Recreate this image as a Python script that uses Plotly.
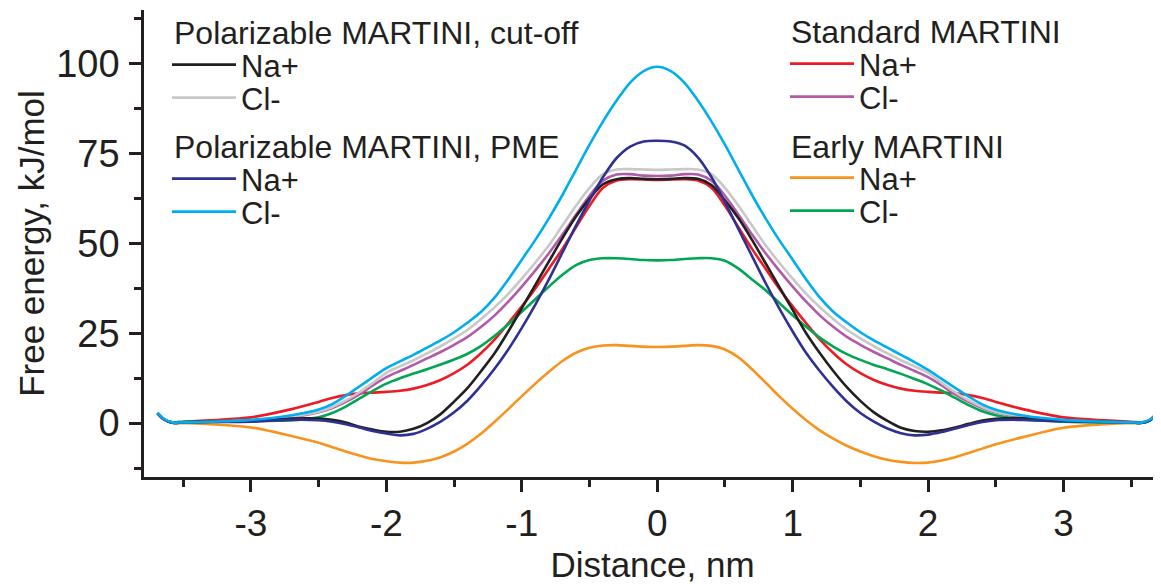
import plotly.graph_objects as go

# ---- data ----
distance_nm = [-3.69, -3.64, -3.58, -3.5, -3.3, -3.0, -2.7, -2.5, -2.4, -2.3, -2.2, -2.1, -2.0,
               -1.9, -1.8, -1.7, -1.6, -1.5, -1.4, -1.3, -1.2, -1.1, -1.0, -0.9, -0.8, -0.7,
               -0.6, -0.5, -0.4, -0.3, -0.2, -0.1, 0.0,
               0.1, 0.2, 0.3, 0.4, 0.5, 0.6, 0.7, 0.8, 0.9, 1.0, 1.1, 1.2, 1.3, 1.4, 1.5,
               1.6, 1.7, 1.8, 1.9, 2.0, 2.1, 2.2, 2.3, 2.4, 2.5, 2.7, 3.0, 3.3, 3.5, 3.58,
               3.64, 3.69]

pol_cut_na = [2.8, 1.0, 0.1, 0.2, 0.4, 0.6, 1.3, 1.3, 0.9, 0.2, -1.0, -1.8, -2.4,
              -2.4, -1.6, 0.0, 2.5, 6.0, 9.8, 14.5, 19.5, 25.5, 32.0, 38.5, 45.0, 51.5,
              57.5, 62.5, 66.5, 67.9, 68.2, 68.0, 67.9,
              68.0, 68.2, 68.0, 66.3, 62.0, 57.0, 51.0, 44.5, 38.0, 31.5, 25.0, 19.5, 14.5, 10.0, 6.2,
              3.0, 0.6, -1.3, -2.2, -2.4, -2.0, -1.2, -0.2, 0.7, 1.2, 1.4, 0.7, 0.4, 0.2, 0.1,
              0.8, 2.8]
pol_cut_cl = [2.8, 1.0, 0.1, 0.2, 0.4, 0.8, 1.9, 3.2, 4.5, 6.3, 8.6, 11.2, 14.0,
              15.8, 17.5, 19.4, 21.4, 23.6, 26.0, 29.0, 32.3, 36.0, 40.2, 44.7, 49.5, 55.0,
              60.5, 65.5, 69.3, 70.6, 70.7, 70.6, 70.5,
              70.6, 70.7, 70.6, 69.3, 65.5, 60.5, 55.0, 49.5, 44.7, 40.2, 36.0, 32.3, 29.0, 26.0, 23.6,
              21.4, 19.4, 17.5, 15.8, 14.0, 11.2, 8.6, 6.3, 4.5, 3.2, 1.9, 0.8, 0.4, 0.2, 0.1,
              0.8, 2.8]
pol_pme_na = [2.8, 1.0, 0.1, 0.2, 0.3, 0.4, 0.9, 0.8, 0.4, -0.3, -1.2, -2.2, -2.9,
              -3.4, -3.0, -1.6, 0.4, 3.0, 6.3, 10.5, 15.2, 20.5, 26.5, 33.0, 40.0, 47.5,
              55.0, 62.0, 68.5, 73.8, 77.0, 78.4, 78.6,
              78.4, 77.3, 74.0, 68.5, 61.5, 54.0, 46.5, 39.0, 32.0, 25.5, 19.5, 14.5, 10.0, 6.0, 2.8,
              0.4, -1.5, -2.8, -3.4, -3.2, -2.5, -1.5, -0.5, 0.3, 0.8, 0.9, 0.5, 0.3, 0.2, 0.1,
              0.8, 2.8]
pol_pme_cl = [2.9, 1.1, 0.2, 0.2, 0.4, 0.9, 2.2, 3.8, 5.3, 7.6, 10.2, 12.8, 15.3,
              17.2, 19.0, 21.0, 23.0, 25.3, 28.0, 31.0, 35.0, 40.0, 45.5, 51.0, 57.0, 63.5,
              70.5, 77.5, 84.0, 89.8, 94.8, 98.0, 99.2,
              98.0, 94.8, 89.8, 84.0, 77.5, 70.5, 63.5, 57.0, 51.0, 45.5, 40.0, 35.0, 31.0, 28.0, 25.3,
              23.0, 21.0, 19.0, 17.0, 14.8, 12.3, 9.8, 7.4, 5.2, 3.7, 2.1, 0.9, 0.4, 0.2, 0.2,
              1.0, 2.9]
std_na = [2.8, 1.0, 0.2, 0.4, 0.8, 1.6, 3.9, 5.9, 7.0, 7.8, 8.3, 8.5, 8.7,
          9.0, 9.6, 10.6, 12.0, 13.9, 16.3, 19.5, 23.3, 27.8, 32.5, 37.5, 43.0, 48.5,
          54.5, 60.5, 65.5, 67.5, 67.9, 67.8, 67.7,
          67.8, 67.9, 67.5, 65.5, 60.5, 54.5, 48.5, 43.0, 37.5, 32.5, 27.8, 23.3, 19.5, 16.3, 13.9,
          12.0, 10.6, 9.6, 9.0, 8.7, 8.5, 8.3, 7.8, 7.0, 5.9, 3.9, 1.6, 0.8, 0.4, 0.2,
          1.0, 2.8]
std_cl = [2.8, 1.0, 0.1, 0.2, 0.3, 0.7, 1.6, 3.0, 4.2, 5.9, 8.0, 10.5, 12.8,
          14.5, 16.2, 18.0, 19.8, 21.8, 24.0, 26.8, 30.0, 33.8, 38.0, 42.5, 47.3, 52.5,
          58.0, 63.3, 67.5, 69.2, 69.3, 68.9, 68.8,
          68.9, 69.3, 69.2, 67.5, 63.3, 58.0, 52.5, 47.3, 42.5, 38.0, 33.8, 30.0, 26.8, 24.0, 21.8,
          19.8, 18.0, 16.2, 14.5, 12.8, 10.5, 8.0, 5.9, 4.2, 3.0, 1.6, 0.7, 0.3, 0.2, 0.1,
          0.8, 2.8]
early_na = [2.8, 1.0, 0.1, 0.0, -0.3, -1.2, -3.6, -5.5, -6.7, -7.9, -9.0, -10.0, -10.6,
            -11.0, -11.0, -10.5, -9.5, -7.9, -5.7, -2.9, 0.4, 3.9, 7.5, 11.0, 14.3, 17.3,
            19.6, 21.0, 21.6, 21.7, 21.5, 21.3, 21.2,
            21.3, 21.5, 21.7, 21.5, 20.5, 18.3, 15.0, 11.3, 7.5, 4.0, 0.8, -2.0, -4.3, -6.3, -7.9,
            -9.2, -10.2, -10.8, -11.1, -11.0, -10.4, -9.5, -8.3, -7.1, -5.9, -3.9, -1.3, -0.3, 0.0, 0.1,
            0.9, 2.8]
early_cl = [2.8, 1.0, 0.2, 0.4, 0.5, 0.6, 0.8, 1.6, 2.8, 4.6, 6.8, 9.0, 11.0,
            12.5, 13.8, 15.0, 16.3, 17.7, 19.3, 21.5, 24.3, 27.5, 31.0, 34.5, 38.0, 41.3,
            44.0, 45.4, 45.9, 45.9, 45.7, 45.4, 45.3,
            45.4, 45.7, 45.9, 45.9, 45.2, 43.0, 40.0, 37.0, 33.5, 30.0, 26.8, 23.8, 21.3, 19.2, 17.6,
            16.2, 15.0, 13.7, 12.3, 10.8, 9.0, 7.0, 5.0, 3.3, 2.2, 1.0, 0.4, 0.2, 0.2, 0.1,
            0.8, 2.8]

group_titles = ["Polarizable MARTINI, cut-off", "Polarizable MARTINI, PME",
                "Standard MARTINI", "Early MARTINI"]
ion_labels = ["Na+", "Cl-"]

x_ticks = [-3, -2, -1, 0, 1, 2, 3]
y_ticks = [0, 25, 50, 75, 100]

# ---- styling ----
INK = "#231f20"
FONT = "Liberation Sans, Arial, Helvetica, sans-serif"

# The page body keeps its default 8 px margin, so the figure is made 8 px
# smaller and all screen positions below are given in screen pixels.
BODY = 8
SCREEN_W, SCREEN_H = 1161, 584
W, H = SCREEN_W - BODY, SCREEN_H - BODY
PLOT_L, PLOT_R, PLOT_T, PLOT_B = 144, 1161, 10, 477     # plot area on screen
ML, MR = PLOT_L - BODY, SCREEN_W - PLOT_R
MT, MB = PLOT_T - BODY, SCREEN_H - PLOT_B
PW, PH = PLOT_R - PLOT_L, PLOT_B - PLOT_T


def px(xs):
    return (xs - PLOT_L) / PW


def py(ys):
    return (PLOT_B - ys) / PH


series = [
    # (values, colour, group index, ion index, legend id, legend screen pos)
    (std_na, "#ed1c24", 2, 0, "legend5", (785, 64)),
    (std_cl, "#b15ba8", 2, 1, "legend6", (785, 97)),
    (early_na, "#f7941d", 3, 0, "legend7", (785, 178)),
    (early_cl, "#00a651", 3, 1, "legend8", (785, 211)),
    (pol_cut_cl, "#c8c8c8", 0, 1, "legend2", (167, 98)),
    (pol_cut_na, INK, 0, 0, "legend", (167, 65)),
    (pol_pme_na, "#2e3192", 1, 0, "legend3", (167, 179)),
    (pol_pme_cl, "#00aeef", 1, 1, "legend4", (167, 212)),
]

fig = go.Figure()
legend_layout = {}
for vals, col, g, ion, lid, (lx, ly) in series:
    fig.add_trace(go.Scatter(
        x=distance_nm, y=vals, mode="lines",
        line=dict(color=col, width=2.6, shape="spline", smoothing=0.9),
        name=ion_labels[ion], legend=lid, showlegend=True,
        legendgroup=group_titles[g],
    ))
    legend_layout[lid] = dict(
        x=px(lx), y=py(ly), xanchor="left", yanchor="middle",
        bgcolor="rgba(0,0,0,0)", borderwidth=0,
        font=dict(family=FONT, size=31, color=INK),
        itemwidth=64, tracegroupgap=0,
    )

headers = [(group_titles[0], 172, 33), (group_titles[1], 172, 147),
           (group_titles[2], 789, 32), (group_titles[3], 789, 147)]
annotations = [
    dict(text=t, x=px(hx), y=py(hy), xref="paper", yref="paper",
         xanchor="left", yanchor="middle", showarrow=False,
         font=dict(family=FONT, size=32, color=INK))
    for t, hx, hy in headers
]

fig.update_layout(
    width=W, height=H,
    margin=dict(l=ML, r=MR, t=MT, b=MB, pad=0, autoexpand=False),
    paper_bgcolor="white", plot_bgcolor="white",
    font=dict(family=FONT, color=INK),
    annotations=annotations,
    **legend_layout,
)

fig.update_xaxes(
    range=[-3.79, 3.72], showgrid=False, zeroline=False, automargin=False,
    showline=True, linecolor=INK, linewidth=2.5,
    tickmode="array", tickvals=x_ticks, ticktext=[str(v) for v in x_ticks],
    ticks="outside", ticklen=12, tickwidth=2.5, tickcolor=INK,
    tickfont=dict(family=FONT, size=37, color=INK),
    minor=dict(dtick=0.5, tick0=0, ticks="outside", ticklen=7, tickwidth=2.5, tickcolor=INK),
    title=dict(text="Distance, nm", font=dict(family=FONT, size=35, color=INK), standoff=10),
)
fig.update_yaxes(
    range=[-15.0, 115.0], showgrid=False, zeroline=False, automargin=False,
    showline=True, linecolor=INK, linewidth=2.5,
    tickmode="array", tickvals=y_ticks, ticktext=[str(v) for v in y_ticks],
    ticks="outside", ticklen=12, tickwidth=2.5, tickcolor=INK,
    tickfont=dict(family=FONT, size=38, color=INK),
    ticklabelstandoff=2,
    minor=dict(dtick=12.5, tick0=0, ticks="outside", ticklen=7, tickwidth=2.5, tickcolor=INK),
    title=dict(text="Free energy, kJ/mol", font=dict(family=FONT, size=35, color=INK), standoff=1),
)

fig.write_html("out.html")
